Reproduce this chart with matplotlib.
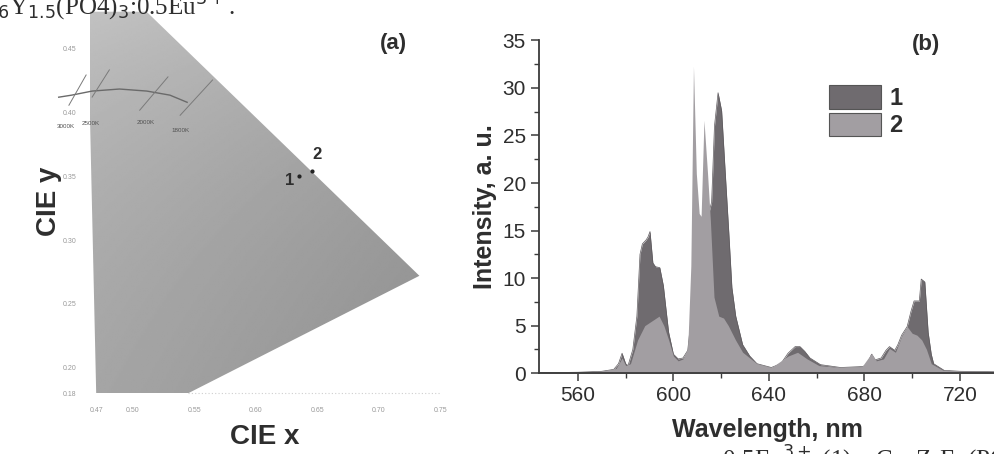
#!/usr/bin/env python3
"""CIE chromaticity detail (a) and Eu3+ emission spectra (b)."""

import numpy as np
import matplotlib
matplotlib.use("Agg")
import matplotlib.pyplot as plt
from matplotlib.patches import Polygon, Patch

plt.rcParams["font.family"] = ["Liberation Sans", "DejaVu Sans"]

# ---- panel (a): CIE diagram detail ----
gamut_x = [0.463, 0.511, 0.733, 0.545, 0.470]
gamut_y = [0.479, 0.479, 0.272, 0.180, 0.180]

locus_x = [0.4395, 0.450, 0.4667, 0.4889, 0.5112, 0.530, 0.544]
locus_y = [0.412, 0.4136, 0.4168, 0.4184, 0.4168, 0.4136, 0.408]

iso_labels = ["3000K", "2500K", "2000K", "1800K"]
iso_x0 = [0.4478, 0.4667, 0.5054, 0.5383]
iso_y0 = [0.4057, 0.4121, 0.4018, 0.3978]
iso_x1 = [0.4618, 0.4807, 0.5284, 0.5647]
iso_y1 = [0.4294, 0.4334, 0.4279, 0.4255]
iso_lab_x = [0.438, 0.458, 0.503, 0.531]
iso_lab_y = [0.389, 0.391, 0.392, 0.386]

pt_labels = ["1", "2"]
pt_x = [0.6354, 0.6453]
pt_y = [0.3500, 0.3543]

cie_xticks = [0.47, 0.50, 0.55, 0.60, 0.65, 0.70, 0.75]
cie_yticks = [0.18, 0.20, 0.25, 0.30, 0.35, 0.40, 0.45]

# ---- panel (b): emission spectra ----
wl_1 = [544, 560, 570, 575, 577, 578.5, 580, 581, 583, 584.7, 586, 587, 588.5,
        589.3, 590.2, 591.4, 592.5, 594.3, 595.8, 597, 598, 600, 602, 604, 606,
        607.5, 609, 611, 613, 615, 616, 617.2, 618.7, 620.2, 621.5, 623.2,
        624.5, 626.1, 629, 632, 635, 641, 645, 648, 651, 653, 655, 657.2,
        661.6, 670, 679.4, 681, 683, 684.5, 687, 689, 690.5, 692.7, 694, 695.6,
        697.9, 699.5, 700.8, 703, 703.8, 705.3, 706.7, 708, 709, 713.4, 720, 735]
int_1 = [0.05, 0.1, 0.2, 0.4, 1.0, 2.1, 1.0, 0.8, 2.5, 6.0, 12.5, 13.6, 14.0,
         14.3, 14.9, 11.6, 11.2, 11.1, 9.2, 6.5, 4.3, 2.0, 1.5, 1.6, 2.4,
         6.0, 14.0, 15.0, 16.0, 17.0, 18.0, 26.0, 29.5, 27.6, 22.0, 14.8,
         9.0, 6.0, 3.0, 1.8, 1.0, 0.6, 1.0, 2.1, 2.8, 2.8, 2.3, 1.6,
         0.9, 0.6, 0.7, 0.9, 2.0, 1.4, 1.6, 2.4, 2.8, 2.4, 3.0, 4.0,
         4.9, 6.5, 7.6, 7.6, 9.9, 9.6, 4.3, 2.0, 1.0, 0.3, 0.2, 0.15]

wl_2 = [544, 570, 576, 578.5, 580, 582, 585, 588, 591, 594, 596, 598, 600, 602,
        604, 606, 607.3, 608.4, 609.6, 610.8, 611.6, 612.8, 614.3, 615.5, 617,
        619, 621, 623, 626, 629, 635, 641, 648, 652, 656, 661, 670, 679, 683,
        685, 688, 690.5, 693, 695.6, 697.9, 700, 702, 704, 706, 708, 713, 720, 735]
int_2 = [0.05, 0.2, 0.5, 1.6, 0.8, 1.0, 3.5, 5.0, 5.5, 6.0, 5.0, 3.5, 1.8, 1.3,
         1.5, 2.6, 11.3, 32.3, 21.0, 16.8, 16.5, 26.6, 21.0, 16.0, 8.0,
         6.0, 5.8, 5.0, 3.5, 2.2, 1.0, 0.6, 1.8, 2.2, 1.5, 0.8, 0.6, 0.7, 2.1,
         1.3, 1.5, 2.6, 2.2, 3.9, 4.9, 4.2, 4.0, 3.5, 2.5, 1.0, 0.3, 0.2, 0.15]

series_labels = ["1", "2"]
series_colors = ["#6f6b6f", "#a29ea2"]

txt = "#2e2e2e"

fig = plt.figure(figsize=(9.95, 4.54), dpi=100)

# ---------------- (a) ----------------
axa = fig.add_axes([0.0905, 0.134, 0.352, 0.843])
axa.set_xlim(0.465, 0.75)
axa.set_ylim(0.18, 0.48)
for s in axa.spines.values():
    s.set_visible(False)

poly = Polygon(np.column_stack([gamut_x, gamut_y]), closed=True,
               facecolor="none", edgecolor="none")
axa.add_patch(poly)
gx, gy = np.meshgrid(np.linspace(0, 1, 200), np.linspace(0, 1, 200))
shade = 0.70 - 0.08 * gx - 0.05 * (1 - gy) + 0.06 * gy ** 3
img = axa.imshow(shade, cmap="gray", vmin=0, vmax=1, origin="lower",
                 extent=[0.46, 0.74, 0.18, 0.48], aspect="auto",
                 interpolation="bilinear", zorder=1)
img.set_clip_path(poly)

axa.plot([0.545, 0.75], [0.18, 0.18], color="#cfcfcf", lw=0.8,
         ls=(0, (1, 2)), zorder=2, clip_on=False)

axa.plot(locus_x, locus_y, color="#6a6a6a", lw=1.0, zorder=3, clip_on=False)
for i in range(len(iso_labels)):
    axa.plot([iso_x0[i], iso_x1[i]], [iso_y0[i], iso_y1[i]], color="#7a7a7a",
             lw=0.7, zorder=3, clip_on=False)
    axa.text(iso_lab_x[i], iso_lab_y[i], iso_labels[i], fontsize=4.5,
             color="#505050", ha="left", va="center", zorder=4, clip_on=False)

axa.scatter(pt_x, pt_y, s=4, color="#222222", zorder=5)
axa.text(pt_x[0] - 0.004, pt_y[0] - 0.003, pt_labels[0], fontsize=12,
         fontweight="bold", color=txt, ha="right", va="center", zorder=5)
axa.text(pt_x[1] + 0.001, pt_y[1] + 0.007, pt_labels[1], fontsize=12,
         fontweight="bold", color=txt, ha="left", va="bottom", zorder=5)

axa.set_xticks(cie_xticks)
axa.set_xticklabels([f"{v:.2f}" for v in cie_xticks])
axa.set_yticks(cie_yticks)
axa.set_yticklabels([f"{v:.2f}" for v in cie_yticks])
axa.tick_params(length=0, labelsize=5, labelcolor="#9a9a9a", pad=10)
axa.set_xlabel("CIE x", fontsize=20, fontweight="bold", color=txt, labelpad=7)
axa.set_ylabel("CIE y", fontsize=20, fontweight="bold", color=txt, labelpad=0)
fig.text(0.395, 0.905, "(a)", fontsize=16, fontweight="bold", color=txt,
         ha="center", va="center")

# ---------------- (b) ----------------
axb = fig.add_axes([0.5417, 0.178, 0.4583, 0.733])
axb.set_xlim(543.7, 734.7)
axb.set_ylim(0, 35)
axb.fill_between(wl_1, 0, int_1, color=series_colors[0], lw=0, zorder=2)
axb.fill_between(wl_2, 0, int_2, color=series_colors[1], lw=0, zorder=3)
axb.plot(wl_1, int_1, color="#5e5a5e", lw=0.5, zorder=2)

for side in ["top", "right"]:
    axb.spines[side].set_visible(False)
for side in ["left", "bottom"]:
    axb.spines[side].set_linewidth(1.3)
    axb.spines[side].set_color("#3a3a3a")
    axb.spines[side].set_zorder(5)

axb.set_xticks([560, 600, 640, 680, 720])
axb.set_xticks([580, 620, 660, 700], minor=True)
axb.set_yticks(np.arange(0, 36, 5))
axb.set_yticks(np.arange(2.5, 35, 5), minor=True)
axb.tick_params(which="major", direction="out", length=6, width=1.1,
                color="#3a3a3a", labelsize=15, labelcolor=txt)
axb.tick_params(which="minor", direction="out", length=3.5, width=1.0,
                color="#3a3a3a")
axb.set_xlabel("Wavelength, nm", fontsize=18, fontweight="bold", color=txt,
               labelpad=9)
axb.set_ylabel("Intensity, a. u.", fontsize=18, fontweight="bold", color=txt,
               labelpad=4)

handles = [Patch(facecolor=c, edgecolor="#555555", lw=0.8) for c in series_colors]
leg = axb.legend(handles, series_labels, loc="upper left",
                 bbox_to_anchor=(0.60, 0.915), frameon=False,
                 handlelength=2.2, handleheight=1.15, handletextpad=0.35,
                 labelspacing=0.12, borderpad=0.2,
                 prop={"size": 17, "weight": "bold"})
for t in leg.get_texts():
    t.set_color(txt)
fig.text(0.931, 0.903, "(b)", fontsize=16, fontweight="bold", color=txt,
         ha="center", va="center")

# clipped caption fragments from the scanned page
fig.text(-0.003, 1 - 15 / 454, r"$_6$Y$_{1.5}$(PO4)$_3$:0.5Eu$^{3+}$.",
         fontsize=18, family="Liberation Serif", color=txt,
         ha="left", va="baseline")
fig.text(0.72, -14 / 454, r":0.5Eu$^{3+}$ (1) – Ca$_9$ZrEu(PO$_4$)$_7$",
         fontsize=18, family="Liberation Serif", color=txt,
         ha="left", va="baseline")

plt.savefig("out.png", dpi=100)
